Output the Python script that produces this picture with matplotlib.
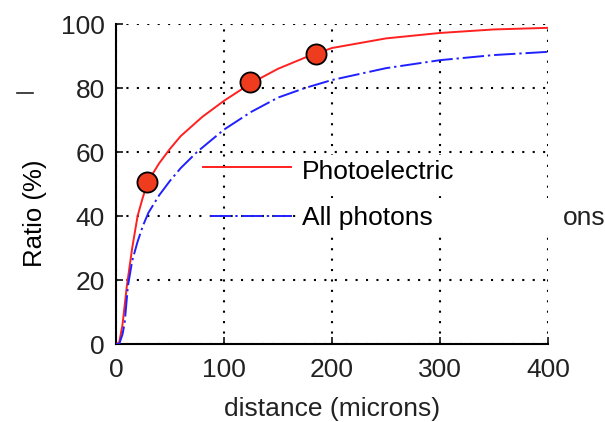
import matplotlib
matplotlib.use("Agg")
from matplotlib import pyplot as plt
from matplotlib.patches import Rectangle
from matplotlib.lines import Line2D

plt.rcParams['font.family'] = ['Liberation Sans', 'DejaVu Sans']

# Photoelectric curve
pe_x = [0, 3, 6, 10, 15, 20, 25, 30, 40, 50, 60, 80, 100, 125, 150, 175, 200, 250, 300, 350, 400]
pe_y = [0, 0.5, 6, 18, 30, 40, 46, 51, 56.5, 61, 65, 71, 76, 81.5, 86, 89.5, 92.5, 95.5, 97.2, 98.3, 98.8]

# All photons curve
all_x = [0, 3, 6, 8, 11, 15, 20, 25, 30, 40, 50, 60, 75, 100, 125, 150, 175, 200, 250, 300, 350, 400]
all_y = [0, 0, 3, 6.5, 18, 26, 32, 37, 41, 46.5, 51, 55, 60, 67, 72.5, 77, 80, 82.5, 86.2, 88.7, 90.3, 91.3]

# marked points
pts_x = [29, 124, 185]
pts_y = [50.5, 82, 90.6]

xticks = [0, 100, 200, 300, 400]
yticks = [0, 20, 40, 60, 80, 100]

red = '#ff2020'
blue = '#2020ff'
dashdot = (0, (11, 2, 1.2, 2))

fig = plt.figure(figsize=(6.05, 4.22), dpi=100)
ax = fig.add_axes([116/605, 1-344/422, 432/605, 320/422])

ax.plot(pe_x, pe_y, color=red, lw=1.4, zorder=3)
ax.plot(all_x, all_y, color=blue, lw=1.4, linestyle=dashdot, zorder=3)
ax.plot(pts_x, pts_y, 'o', ms=14.5, mfc='#f03c1e', mec='black', mew=1.3, zorder=4, clip_on=False)

ax.set_xlim(0, 400)
ax.set_ylim(0, 100)
ax.set_xticks(xticks)
ax.set_yticks(yticks)
ax.grid(True, color='black', linestyle=(0, (1, 4)), lw=1.5)
for s in ['top', 'right']:
    ax.spines[s].set_visible(False)
for s in ['left', 'bottom']:
    ax.spines[s].set_linewidth(1.5)
ax.tick_params(direction='in', length=5, width=1.3, labelsize=19, pad=8, colors='#222222')
ax.tick_params(axis='x', pad=10)
ax.set_xlabel('distance (microns)', fontsize=19, color='#222222', labelpad=11)

# legend drawn by hand, with white boxes behind the texts
ax.add_patch(Rectangle((0.426, 0.4875), 0.5625, 0.103, transform=ax.transAxes,
                       facecolor='white', edgecolor='none', zorder=5, clip_on=False))
ax.add_patch(Rectangle((0.426, 0.347), 0.694, 0.109, transform=ax.transAxes,
                       facecolor='white', edgecolor='none', zorder=5, clip_on=False))
ax.plot([0.201, 0.405], [0.553, 0.553], color=red, lw=1.4, transform=ax.transAxes, zorder=6)
ax.plot([0.218, 0.407], [0.40, 0.40], color=blue, lw=1.4, linestyle=dashdot,
        transform=ax.transAxes, zorder=6)
ax.text(0.43, 0.5375, 'Photoelectric', transform=ax.transAxes, fontsize=19,
        va='center', ha='left', zorder=7)
ax.text(0.43, 0.394, 'All photons', transform=ax.transAxes, fontsize=19,
        va='center', ha='left', zorder=7)
ax.text(1.035, 0.394, 'ons', transform=ax.transAxes, fontsize=19, color='#222222',
        va='center', ha='left', zorder=7, clip_on=False)

fig.text(35/605, 1-213/422, 'Ratio (%)', rotation=90, fontsize=18.5, va='center', ha='center')
fig.add_artist(Line2D([17/605, 33/605], [1-93/422, 1-93/422], color='#222222', lw=1.2))

fig.savefig('out.png', dpi=100)
